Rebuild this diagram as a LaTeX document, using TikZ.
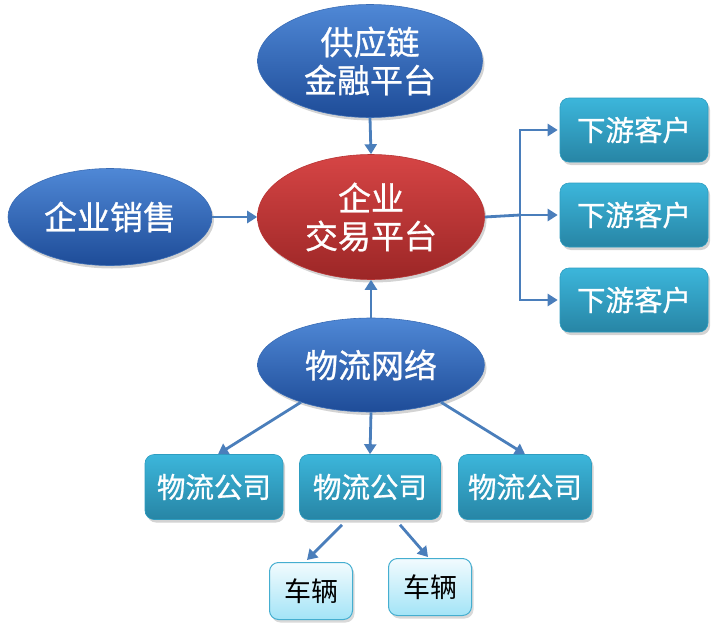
\documentclass[tikz,border=0pt]{standalone}
\usepackage{fontspec}
\setmainfont{Noto Sans CJK SC}
\newfontfamily\boldish[FakeBold=0.8]{Noto Sans CJK SC}
\usetikzlibrary{shapes.geometric,shadows,arrows.meta,calc}
\definecolor{bluetop}{HTML}{4F88D6}
\definecolor{bluebot}{HTML}{1E4C98}
\definecolor{blueedge}{HTML}{3A6CB5}
\definecolor{redtop}{HTML}{D64545}
\definecolor{redbot}{HTML}{9C2626}
\definecolor{rededge}{HTML}{B83434}
\definecolor{tealtop}{HTML}{3CB6DB}
\definecolor{tealbot}{HTML}{2785A5}
\definecolor{tealedge}{HTML}{2E9DC0}
\definecolor{lighttop}{HTML}{F2FBFE}
\definecolor{lightbot}{HTML}{A3E4F7}
\definecolor{lightedge}{HTML}{45AED0}
\definecolor{arrowc}{HTML}{4A7EBB}
\begin{document}
\begin{tikzpicture}[x=1pt,y=-1pt,
  ellbase/.style={ellipse, inner sep=0pt, align=center, text=white,
    font=\boldish\fontsize{33}{38}\selectfont, line width=0.6pt,
    drop shadow={opacity=0.35, shadow xshift=2pt, shadow yshift=-3pt}},
  blueell/.style={ellbase, draw=blueedge, top color=bluetop, bottom color=bluebot},
  redell/.style={ellbase, draw=rededge, top color=redtop, bottom color=redbot},
  tealbox/.style={rectangle, rounded corners=9pt, draw=tealedge, line width=0.6pt,
    top color=tealtop, bottom color=tealbot, text=white,
    font=\boldish\fontsize{28.5}{32}\selectfont, inner sep=0pt,
    drop shadow={opacity=0.35, shadow xshift=2pt, shadow yshift=-3pt}},
  lightbox/.style={rectangle, rounded corners=9pt, draw=lightedge, line width=1pt,
    top color=lighttop, bottom color=lightbot, text=black,
    font=\fontsize{27}{30}\selectfont, inner sep=0pt, minimum width=83pt, minimum height=57pt,
    drop shadow={opacity=0.3, shadow xshift=2pt, shadow yshift=-3pt}},
  arr/.style={draw=arrowc, line width=2.8pt, -{Triangle[length=10pt,width=12pt]}},
  ln/.style={draw=arrowc, line width=2.8pt}
]
\useasboundingbox (0,0) rectangle (718,632);

\node[blueell, minimum width=225pt, minimum height=113pt] (fin) at (370,61) {供应链\\金融平台};
\node[redell, minimum width=227pt, minimum height=125pt] (trade) at (371,217) {企业\\交易平台};
\node[blueell, minimum width=204pt, minimum height=97pt] (sales) at (110,217) {企业销售};
\node[blueell, minimum width=227pt, minimum height=94pt] (net) at (371,365) {物流网络};

\node[tealbox, minimum width=148pt, minimum height=64pt] (d1) at (634,130) {下游客户};
\node[tealbox, minimum width=148pt, minimum height=64pt] (d2) at (634,215) {下游客户};
\node[tealbox, minimum width=148pt, minimum height=64pt] (d3) at (634,300) {下游客户};

\node[tealbox, minimum width=138pt, minimum height=65pt] (m1) at (214,487) {物流公司};
\node[tealbox, minimum width=141pt, minimum height=65pt] (m2) at (370,487) {物流公司};
\node[tealbox, minimum width=133pt, minimum height=65pt] (m3) at (525,487) {物流公司};

\node[lightbox] (v1) at (311,591) {车辆};
\node[lightbox] (v2) at (430,587) {车辆};

\coordinate (j) at (520,215);

\draw[arr] (fin.south) -- (trade.north);
\draw[arr] (sales.east) -- (trade.west);
\draw[arr] (net.north) -- (trade.south);
\draw[ln] (trade.east) -- (j);
\draw[arr] (j) |- ([xshift=-2pt]d1.west);
\draw[arr] (j) -- ([xshift=-2pt]d2.west);
\draw[arr] (j) |- ([xshift=-2pt]d3.west);

\draw[arr] (net.208) -- ($(m1.north)+(4,0)$);
\draw[arr] (net.south) -- (m2.north);
\draw[arr] (net.332) -- (m3.north);

\draw[arr] ($(m2.south)+(-28,5)$) -- ($(v1.north)+(-4,-2)$);
\draw[arr] ($(m2.south)+(30,5)$) -- ($(v2.north)+(-2,-1)$);
\end{tikzpicture}
\end{document}
